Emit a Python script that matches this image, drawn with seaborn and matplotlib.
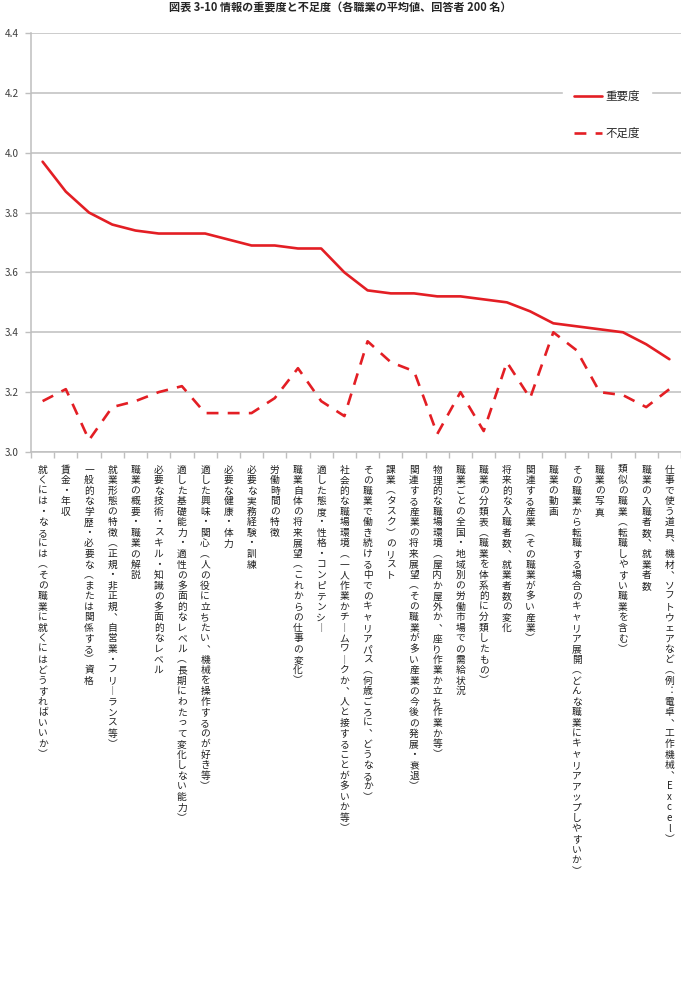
import matplotlib
matplotlib.use("Agg")
import matplotlib.pyplot as plt
import seaborn as sns
import pandas as pd

# information items, ordered by importance
items = [
    "就くには・なるには（その職業に就くにはどうすればいいか）",
    "賃金・年収",
    "一般的な学歴・必要な（または関係する）資格",
    "就業形態の特徴（正規・非正規、自営業・フリーランス等）",
    "職業の概要・職業の解説",
    "必要な技術・スキル・知識の多面的なレベル",
    "適した基礎能力・適性の多面的なレベル（長期にわたって変化しない能力）",
    "適した興味・関心（人の役に立ちたい、機械を操作するのが好き等）",
    "必要な健康・体力",
    "必要な実務経験・訓練",
    "労働時間の特徴",
    "職業自体の将来展望（これからの仕事の変化）",
    "適した態度・性格・コンピテンシー",
    "社会的な職場環境（一人作業かチームワークか、人と接することが多いか等）",
    "その職業で働き続ける中でのキャリアパス（何歳ごろに、どうなるか）",
    "課業（タスク）のリスト",
    "関連する産業の将来展望（その職業が多い産業の今後の発展・衰退）",
    "物理的な職場環境（屋内か屋外か、座り作業か立ち作業か等）",
    "職業ごとの全国・地域別の労働市場での需給状況",
    "職業の分類表（職業を体系的に分類したもの）",
    "将来的な入職者数、就業者数の変化",
    "関連する産業（その職業が多い産業）",
    "職業の動画",
    "その職業から転職する場合のキャリア展開（どんな職業にキャリアアップしやすいか）",
    "職業の写真",
    "類似の職業（転職しやすい職業を含む）",
    "職業の入職者数、就業者数",
    "仕事で使う道具、機材、ソフトウェアなど（例：電卓、工作機械、Excel）",
]

importance = [3.97, 3.87, 3.80, 3.76, 3.74, 3.73, 3.73, 3.73, 3.71, 3.69,
              3.69, 3.68, 3.68, 3.60, 3.54, 3.53, 3.53, 3.52, 3.52, 3.51,
              3.50, 3.47, 3.43, 3.42, 3.41, 3.40, 3.36, 3.31]
shortage = [3.17, 3.21, 3.04, 3.15, 3.17, 3.20, 3.22, 3.13, 3.13, 3.13,
            3.18, 3.28, 3.17, 3.12, 3.37, 3.30, 3.27, 3.06, 3.20, 3.07,
            3.30, 3.18, 3.40, 3.34, 3.20, 3.19, 3.15, 3.21]

yticks = [3.0, 3.2, 3.4, 3.6, 3.8, 4.0, 4.2, 4.4]

sns.set_theme(style="white")
plt.rcParams['font.family'] = ['Noto Sans CJK JP', 'DejaVu Sans']

RED = "#e31e24"
GRID = "#bfbfbf"

# vertical forms so the stacked labels look like tategaki
vmap = {"（": "︵", "）": "︶", "、": "︑", "ー": "︱", "：": "︓"}


def vertical(s):
    return "\n".join(vmap.get(c, c) for c in s)


df = pd.DataFrame({"pos": range(len(items)), "imp": importance, "short": shortage})

fig = plt.figure(figsize=(6.81, 9.82), dpi=100)
ax = fig.add_axes([31 / 681, 1 - 452 / 982, 650 / 681, 419 / 982])

sns.lineplot(data=df, x="pos", y="imp", ax=ax, color=RED, lw=1.9, label="重要度")
sns.lineplot(data=df, x="pos", y="short", ax=ax, color=RED, lw=1.9,
             dashes=False, label="不足度")
ax.get_lines()[1].set_dashes([4.5, 3.5])

ax.set_xlim(-0.5, len(items) - 0.5)
ax.set_ylim(3.0, 4.4)
ax.set_yticks(yticks)
ax.set_yticklabels([f"{v:.1f}" for v in yticks], fontsize=7.2, color="#404040")
ax.yaxis.grid(True, color=GRID, lw=1.1)
ax.set_axisbelow(True)

ax.set_xticks(range(len(items)))
ax.set_xticklabels([vertical(s) for s in items], fontsize=7.0, va="top",
                   linespacing=1.07, color="#202020")
ax.set_xticks([i + 0.5 for i in range(-1, len(items))], minor=True)
ax.tick_params(axis="x", which="major", length=0, pad=9)
ax.tick_params(axis="x", which="minor", length=4, color=GRID, width=1, bottom=True)
ax.tick_params(axis="y", length=4, color=GRID, width=1, left=True, pad=5)
ax.set_xlabel("")
ax.set_ylabel("")

for side in ["top", "right"]:
    ax.spines[side].set_visible(False)
for side in ["left", "bottom"]:
    ax.spines[side].set_color(GRID)
    ax.spines[side].set_linewidth(1.1)

leg = ax.legend(loc="center", bbox_to_anchor=(0.886, 0.805), fontsize=8.3,
                frameon=True, framealpha=1, edgecolor="white", fancybox=False,
                handlelength=2.5, handletextpad=0.3, labelspacing=2.1,
                borderpad=0.9)

fig.text(0.5, 0.999, "図表 3-10 情報の重要度と不足度（各職業の平均値、回答者 200 名）",
         ha="center", va="top", fontsize=8, fontweight="bold")

fig.savefig("out.png", dpi=100, facecolor="white")
